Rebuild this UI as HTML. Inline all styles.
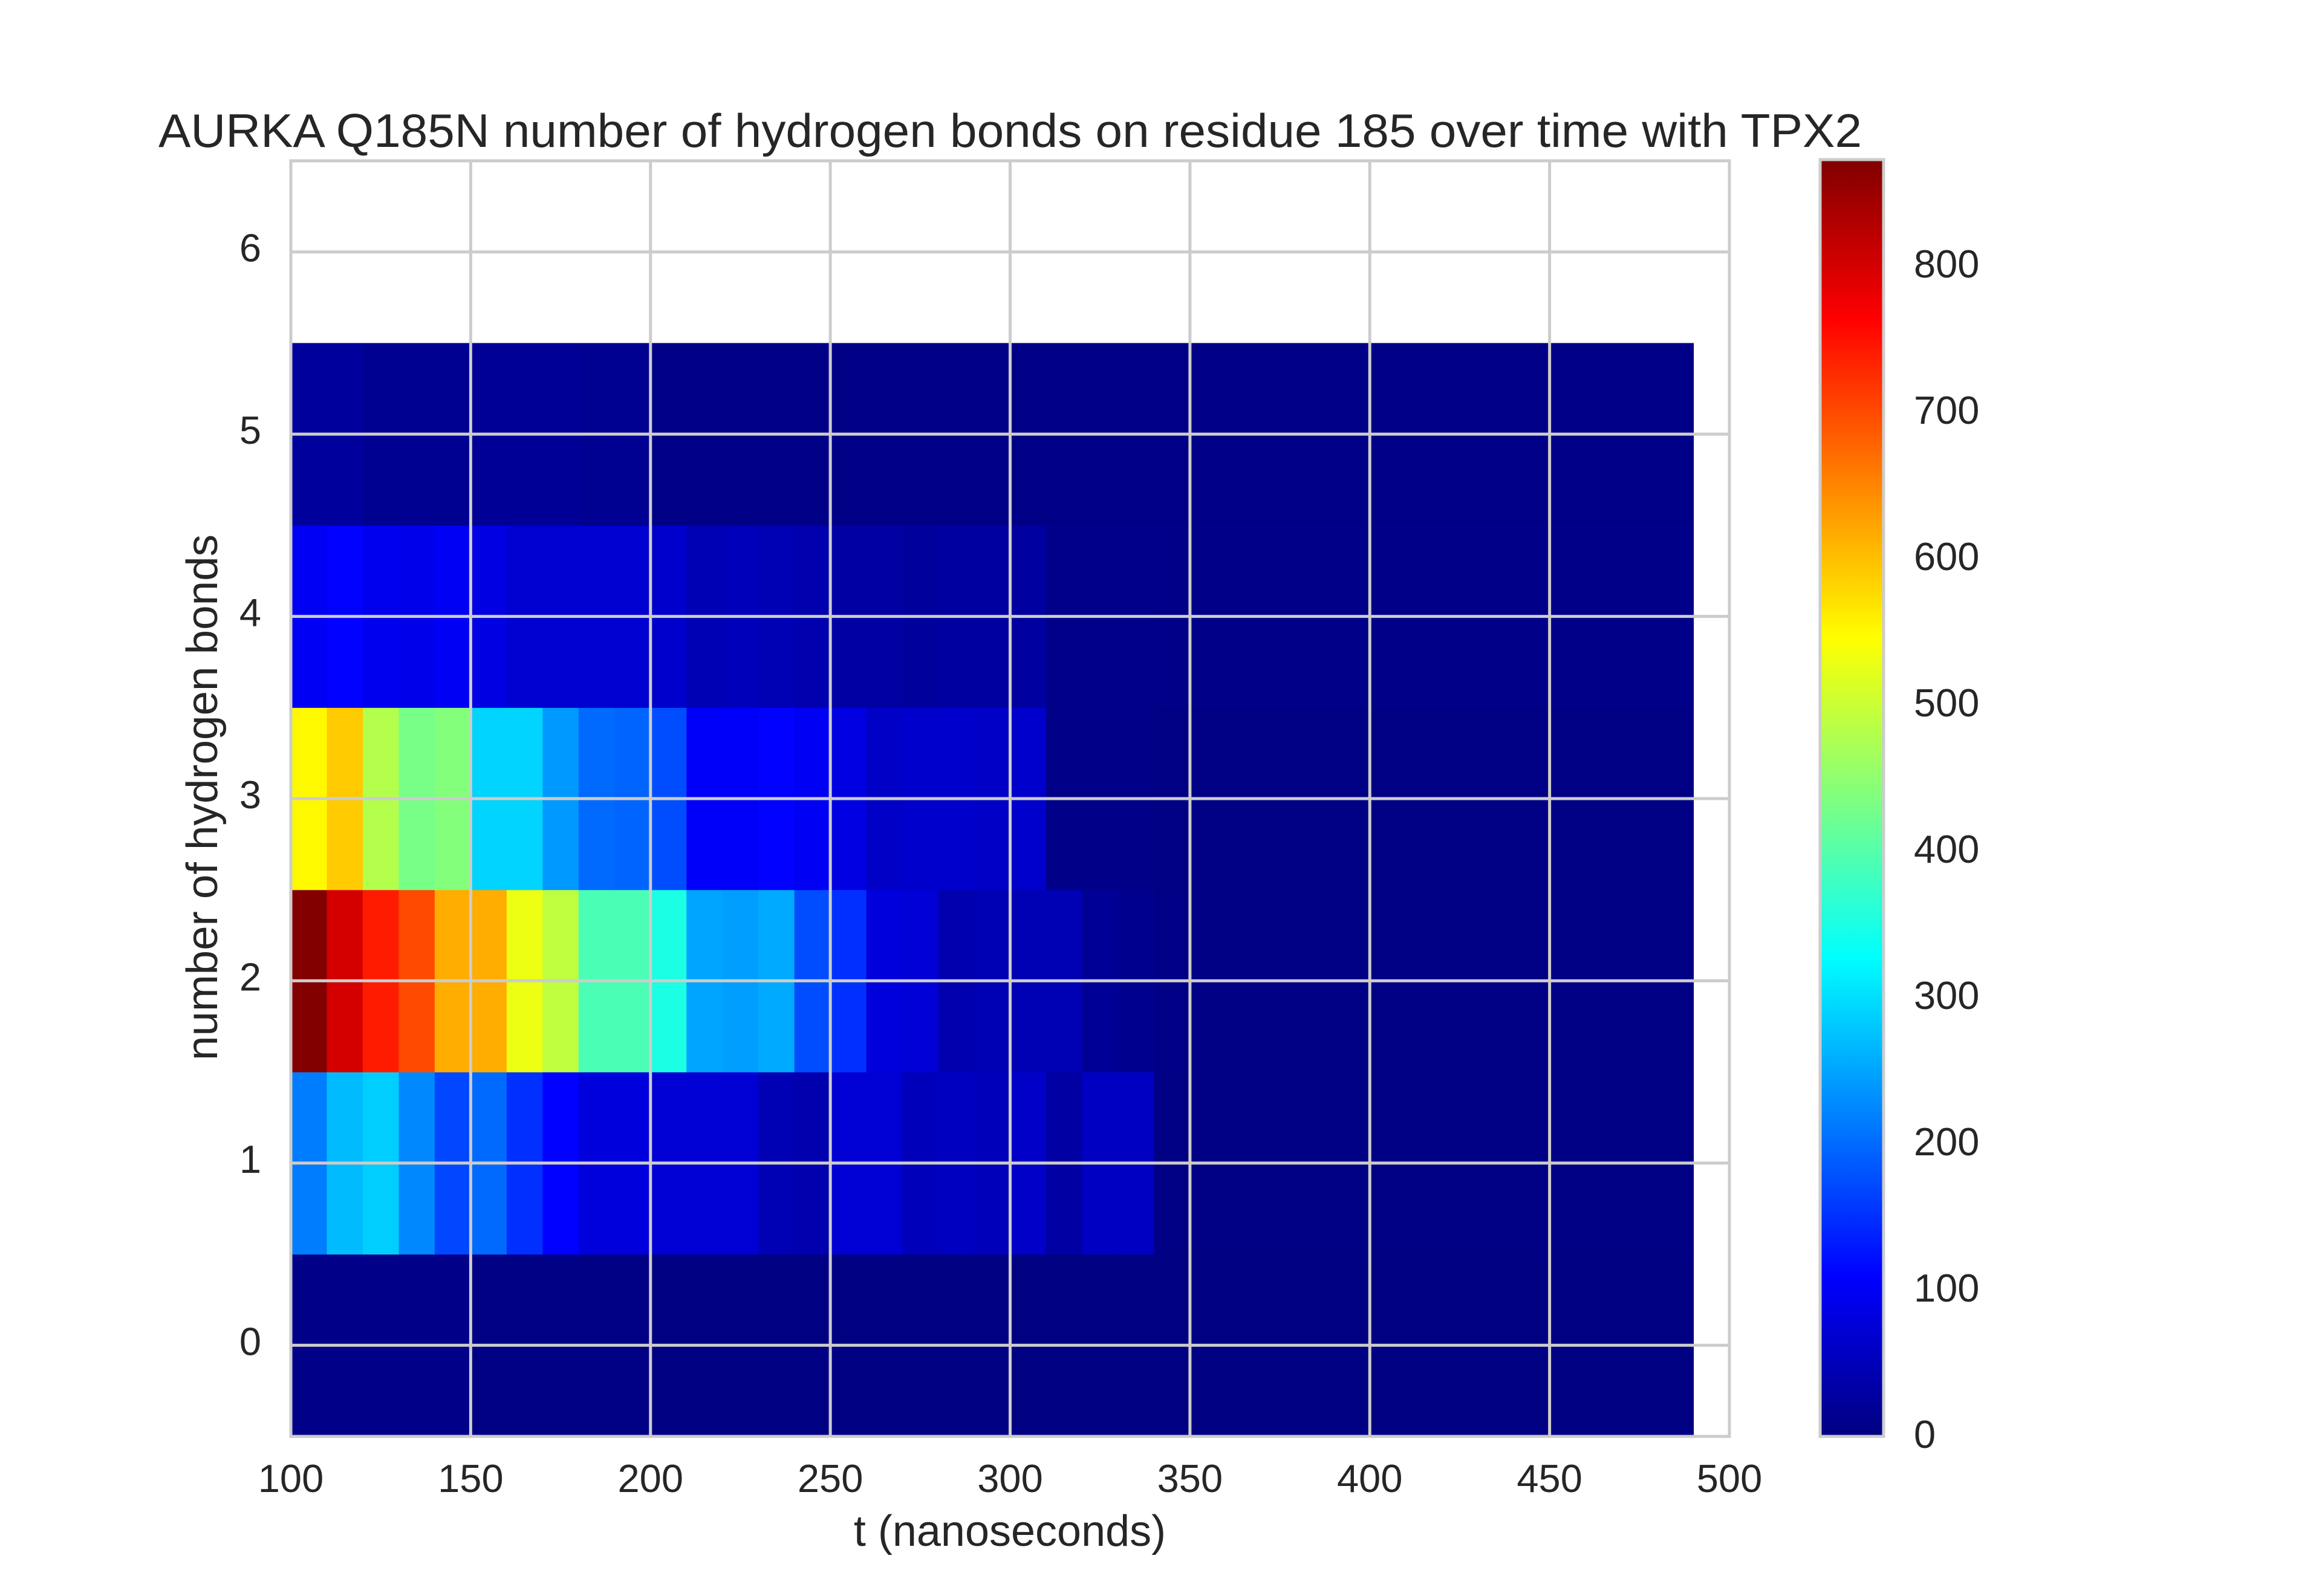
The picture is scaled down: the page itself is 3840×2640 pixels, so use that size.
<!DOCTYPE html>
<html><head><meta charset="utf-8"><style>
body{margin:0;background:#fff}
svg{display:block}
text{font-family:"Liberation Sans",sans-serif;fill:#262626}
</style></head><body>
<svg id="chart" width="3840" height="2640" viewBox="0 0 3840 2640" xmlns="http://www.w3.org/2000/svg">
<g id="cells"></g>
<g id="grid"></g>
<rect x="481" y="266" width="2379" height="2110" fill="none" stroke="#cccccc" stroke-width="5"/>
<g id="xticks"></g>
<g id="yticks"></g>
<text x="262" y="243" font-size="78" textLength="2817" lengthAdjust="spacingAndGlyphs">AURKA Q185N number of hydrogen bonds on residue 185 over time with TPX2</text>
<text x="1670" y="2557" font-size="72" text-anchor="middle">t (nanoseconds)</text>
<text transform="translate(359,1319) rotate(-90)" font-size="72" text-anchor="middle" textLength="870" lengthAdjust="spacingAndGlyphs">number of hydrogen bonds</text>
<defs><linearGradient id="jetg" x1="0" y1="1" x2="0" y2="0"></linearGradient></defs>
<rect x="3010" y="264" width="105" height="2112" fill="url(#jetg)" stroke="#cccccc" stroke-width="5"/>
<g id="cbticks"></g>
</svg>
<script>
const xStarts=[100,110,120,130,140,150,160,170,180,190,200,210,220,230,240,250,260,270,280,290,300,310,320,330,340,350,360,370,380,390,400,410,420,430,440,450,460,470,480];
const bondCounts=[0,1,2,3,4,5];
const row0=[8,8,8,8,8,5,5,4,4,4,3,3,3,3,3,3,3,3,3,3,3,3,3,3,3,3,3,3,3,3,3,3,3,3,3,3,3,3,3];
const row1=[215,270,285,225,170,200,150,110,80,80,72,72,72,45,40,72,72,50,55,50,62,30,58,58,5,5,5,5,5,5,5,5,5,5,5,5,5,5,5];
const row2=[870,800,740,700,615,615,530,490,390,390,350,250,245,255,175,150,80,75,40,45,45,45,20,12,6,5,5,5,5,5,5,5,5,5,5,5,5,5,5];
const row3=[550,590,480,430,440,290,290,240,200,195,175,105,105,110,100,85,60,65,65,60,65,8,8,8,5,5,5,5,5,5,5,5,5,5,5,5,5,5,5];
const row4=[100,110,95,92,100,85,70,70,70,70,65,45,50,45,40,30,30,25,28,28,28,10,10,10,8,8,8,8,8,8,8,8,8,8,8,8,8,8,8];
const row5=[25,25,15,15,15,20,20,20,15,15,6,6,6,6,6,6,6,6,6,6,6,6,6,6,6,6,6,6,6,6,6,6,6,6,6,6,6,6,6];
const xTicks=[100,150,200,250,300,350,400,450,500];
const yTicks=[0,1,2,3,4,5,6];
const cbTicks=[0,100,200,300,400,500,600,700,800];
const vmax=872, binW=10;
const rows=[row0,row1,row2,row3,row4,row5];
const NS='http://www.w3.org/2000/svg';
const X0=481,X1=2860,Y0=2376,Y1=266;
function sx(v){return X0+(v-100)/400*(X1-X0);}
function sy(v){return Y0-(v+0.5)/7*(Y0-Y1);}
function jet(t){t=Math.max(0,Math.min(1,t));
 const f=(x)=>Math.max(0,Math.min(1,x));
 const r=f(Math.min(4*t-1.5,-4*t+4.5)),g=f(Math.min(4*t-0.5,-4*t+3.5)),b=f(Math.min(4*t+0.5,-4*t+2.5));
 return `rgb(${Math.round(r*255)},${Math.round(g*255)},${Math.round(b*255)})`;}
function mk(tag,attrs,parent){const e=document.createElementNS(NS,tag);for(const k in attrs)e.setAttribute(k,attrs[k]);parent.appendChild(e);return e;}
const cells=document.getElementById('cells');
rows.forEach((row,ri)=>{row.forEach((v,ci)=>{
 const x=sx(xStarts[ci]),x2=sx(xStarts[ci]+binW),y=sy(bondCounts[ri]+0.5),y2=sy(bondCounts[ri]-0.5);
 const r=mk('rect',{x:x,y:y,width:x2-x+0.6,height:y2-y+0.6,fill:jet(v/vmax)},cells);
 
 
});});
const grid=document.getElementById('grid');
xTicks.forEach(t=>{const l=mk('line',{x1:sx(t),x2:sx(t),y1:Y1,y2:Y0,stroke:'#cccccc','stroke-width':5},grid);
 
 
 const tx=mk('text',{x:sx(t),y:2468,'font-size':65,'text-anchor':'middle'},document.getElementById('xticks'));tx.textContent=t;
 
 });
yTicks.forEach(t=>{const l=mk('line',{x1:X0,x2:X1,y1:sy(t),y2:sy(t),stroke:'#cccccc','stroke-width':5},grid);
 
 
 const tx=mk('text',{x:432,y:sy(t)+16,'font-size':65,'text-anchor':'end'},document.getElementById('yticks'));tx.textContent=t;
 
 });
const grad=document.getElementById('jetg');
for(let i=0;i<=40;i++){mk('stop',{offset:(i/40),'stop-color':jet(i/40)},grad);}
const CB0=2374,CB1=264;
cbTicks.forEach(t=>{const y=CB0-t/vmax*(CB0-CB1);
 const tx=mk('text',{x:3165,y:y+21,'font-size':65},document.getElementById('cbticks'));tx.textContent=t;
 
 });
</script>
</body></html>
